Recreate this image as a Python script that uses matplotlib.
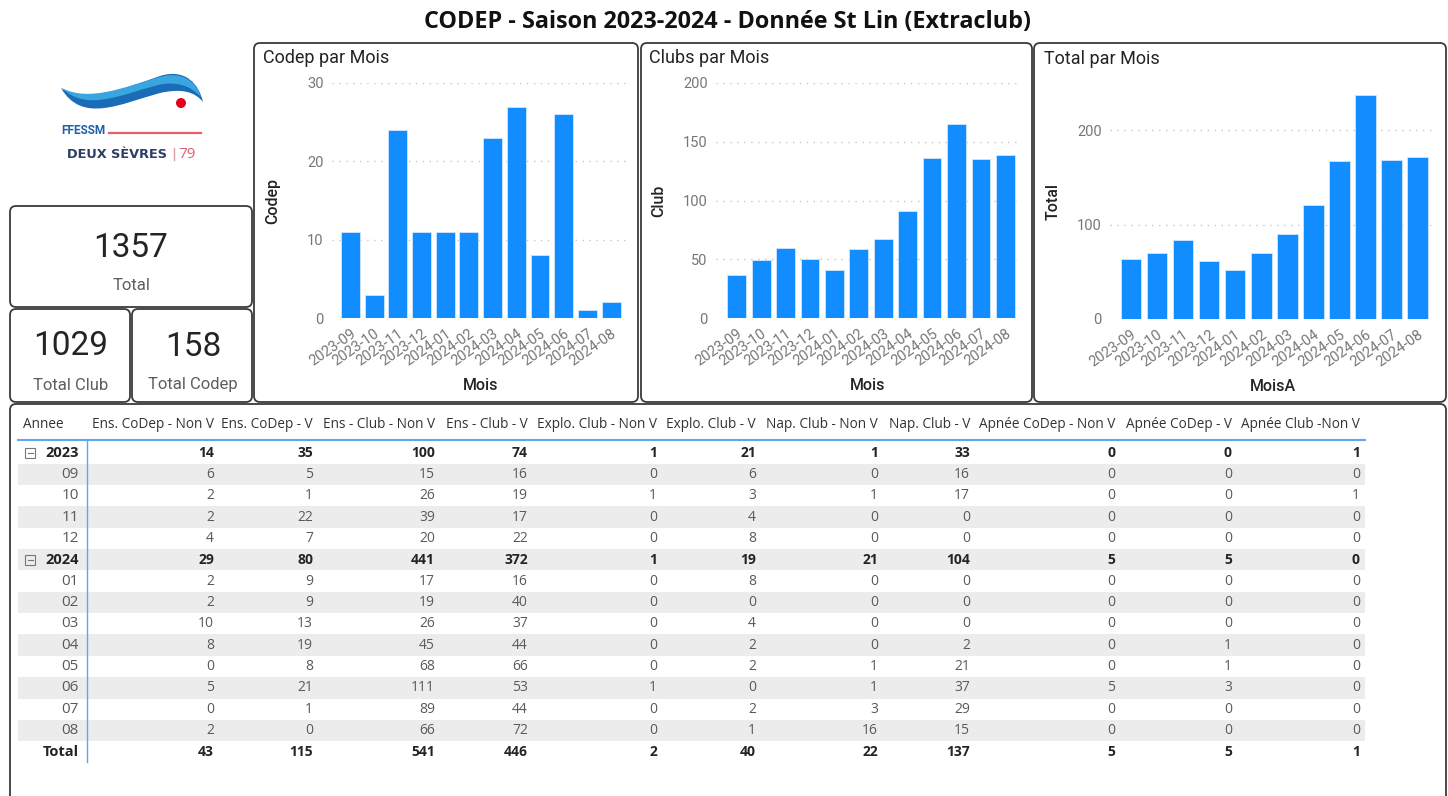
import matplotlib.pyplot as plt
import numpy as np
from matplotlib.patches import FancyBboxPatch, Circle, Rectangle, PathPatch
from matplotlib.path import Path

mois = ["2023-09", "2023-10", "2023-11", "2023-12", "2024-01", "2024-02",
        "2024-03", "2024-04", "2024-05", "2024-06", "2024-07", "2024-08"]
codep = [11, 3, 24, 11, 11, 11, 23, 27, 8, 26, 1, 2]
club = [37, 49, 60, 50, 41, 59, 67, 91, 136, 165, 135, 139]
total = [64, 70, 84, 61, 52, 70, 90, 121, 167, 237, 168, 172]

kpi_total = 1357
kpi_club = 1029
kpi_codep = 158

colonnes = ["Ens. CoDep - Non V", "Ens. CoDep - V", "Ens - Club - Non V", "Ens - Club - V",
            "Explo. Club - Non V", "Explo. Club - V", "Nap. Club - Non V", "Nap. Club - V",
            "Apnée CoDep - Non V", "Apnée CoDep - V", "Apnée Club -Non V"]
mois_2023 = ["09", "10", "11", "12"]
mois_2024 = ["01", "02", "03", "04", "05", "06", "07", "08"]
ens_codep_nv = [6, 2, 2, 4, 2, 2, 10, 8, 0, 5, 0, 2]
ens_codep_v = [5, 1, 22, 7, 9, 9, 13, 19, 8, 21, 1, 0]
ens_club_nv = [15, 26, 39, 20, 17, 19, 26, 45, 68, 111, 89, 66]
ens_club_v = [16, 19, 17, 22, 16, 40, 37, 44, 66, 53, 44, 72]
explo_nv = [0, 1, 0, 0, 0, 0, 0, 0, 0, 1, 0, 0]
explo_v = [6, 3, 4, 8, 8, 0, 4, 2, 2, 0, 2, 1]
nap_nv = [0, 1, 0, 0, 0, 0, 0, 0, 1, 1, 3, 16]
nap_v = [16, 17, 0, 0, 0, 0, 0, 2, 21, 37, 29, 15]
apnee_codep_nv = [0, 0, 0, 0, 0, 0, 0, 0, 0, 5, 0, 0]
apnee_codep_v = [0, 0, 0, 0, 0, 0, 0, 1, 1, 3, 0, 0]
apnee_club_nv = [0, 1, 0, 0, 0, 0, 0, 0, 0, 0, 0, 0]
series = [ens_codep_nv, ens_codep_v, ens_club_nv, ens_club_v, explo_nv, explo_v,
          nap_nv, nap_v, apnee_codep_nv, apnee_codep_v, apnee_club_nv]

W, H = 1448, 796
BLEU = "#118DFF"
TXT = "#252423"
GRIS = "#605E5C"
POLICE = "Roboto"
POLICE_TAB = "Open Sans"

fig = plt.figure(figsize=(W / 100, H / 100), dpi=100)
fig.patch.set_facecolor("white")

bg = fig.add_axes([0, 0, 1, 1])
bg.set_xlim(0, W)
bg.set_ylim(H, 0)
bg.axis("off")


def boite(x0, y0, x1, y1):
    bg.add_patch(FancyBboxPatch((x0, y0), x1 - x0, y1 - y0,
                                boxstyle="round,pad=0,rounding_size=6",
                                fc="white", ec="#3a3a3a", lw=1.3))


def px(x0, y0, x1, y1):
    return [x0 / W, 1 - y1 / H, (x1 - x0) / W, (y1 - y0) / H]


# titre
bg.text(W / 2 + 4, 22, "CODEP - Saison 2023-2024 - Donnée St Lin (Extraclub)",
        ha="center", va="center", fontsize=16.8, fontweight="bold",
        family=POLICE_TAB, color="#111111")

# logo
codes = [Path.MOVETO] + [Path.CURVE4] * 12
vague = Path([(61, 88), (85, 104), (120, 90), (160, 76), (185, 68), (199, 84), (203, 102),
              (195, 92), (182, 88), (160, 93), (120, 104), (82, 124), (61, 88)], codes)
bg.add_patch(PathPatch(vague, fc="#1b6cb6", ec="none"))
clair = Path([(62, 88), (88, 102), (122, 88), (160, 77), (184, 70), (197, 84), (201, 97),
              (190, 85), (175, 81), (158, 85), (120, 95), (86, 112), (62, 88)], codes)
bg.add_patch(PathPatch(clair, fc="#3aa6e0", ec="none"))
bg.add_patch(Circle((181, 103), 5, fc="#e3001b", ec="none"))
bg.text(61, 131, "FFESSM", ha="left", va="center", fontsize=8.5, fontweight="bold",
        family=POLICE, color="#1b5fae")
bg.plot([109, 201], [133, 133], color="#e8606b", lw=1.6)
bg.text(67, 154, "DEUX SÈVRES", ha="left", va="center", fontsize=9.3, fontweight="bold",
        family="DejaVu Sans", color="#2b3f66")
bg.plot([174, 174], [148, 160], color="#d8a0a8", lw=1)
bg.text(178, 154, "79", ha="left", va="center", fontsize=11, family="Open Sans",
        color="#e06070")

# cartes KPI
boite(10, 206, 252, 307)
boite(10, 309, 130, 402)
boite(132, 309, 252, 402)
bg.text(131, 248, f"{kpi_total}", ha="center", va="center", fontsize=24, family=POLICE, color=TXT)
bg.text(131, 285, "Total", ha="center", va="center", fontsize=12, family=POLICE, color=GRIS)
bg.text(71, 346, f"{kpi_club}", ha="center", va="center", fontsize=24, family=POLICE, color=TXT)
bg.text(71, 385, "Total Club", ha="center", va="center", fontsize=12, family=POLICE, color=GRIS)
bg.text(193, 347, f"{kpi_codep}", ha="center", va="center", fontsize=24, family=POLICE, color=TXT)
bg.text(193, 385, "Total Codep", ha="center", va="center", fontsize=12, family=POLICE, color=GRIS)

# graphiques
boite(254, 43, 638, 402)
boite(641, 43, 1032, 402)
boite(1034, 43, 1446, 402)

graphs = [
    ("Codep par Mois", codep, "Codep", "Mois", (332, 83, 630, 318), 30, [0, 10, 20, 30],
     (-0.78, 11.8), 0.8, (263, 58), -0.172),
    ("Clubs par Mois", club, "Club", "Mois", (716, 83, 1020, 318), 200, [0, 50, 100, 150, 200],
     (-0.85, 11.6), 0.77, (649, 58), -0.164),
    ("Total par Mois", total, "Total", "MoisA", (1110, 83, 1436, 319), 250, [0, 100, 200],
     (-0.8, 11.7), 0.79, (1044, 59), -0.15),
]

for titre, vals, ylab, xlab, pos, ymax, yt, xl, bw, tpos, ylx in graphs:
    ax = fig.add_axes(px(*pos))
    ax.set_facecolor("none")
    x = np.arange(len(mois))
    ax.bar(x, vals, width=bw, color=BLEU, edgecolor="#cfe6ff", linewidth=0.6, zorder=3)
    ax.set_ylim(0, ymax)
    ax.set_xlim(*xl)
    ax.set_yticks(yt)
    ax.set_xticks(x)
    ax.set_xticklabels(mois, rotation=35, ha="right", rotation_mode="anchor")
    ax.tick_params(length=0, labelsize=10.5, labelcolor="#777777", pad=6)
    for lab in ax.get_xticklabels() + ax.get_yticklabels():
        lab.set_family(POLICE)
    ax.grid(axis="y", linestyle=(0, (1, 4)), color="#c8c6c4", lw=1, zorder=0)
    for s in ax.spines.values():
        s.set_visible(False)
    ax.set_ylabel(ylab, fontsize=11.5, family=POLICE, fontweight="medium", color=TXT)
    ax.set_xlabel(xlab, fontsize=11.5, family=POLICE, fontweight="medium", color=TXT)
    ax.yaxis.set_label_coords(ylx, 0.5)
    ax.xaxis.set_label_coords(0.5, -0.255)
    bg.text(tpos[0], tpos[1], titre, ha="left", va="center", fontsize=13,
            family=POLICE, color=TXT)

# tableau
boite(10, 404, 1446, 820)
droites = [214, 313, 435, 528, 657, 756, 878, 970, 1115, 1232, 1360]
bg.text(23, 424, "Annee", ha="left", va="center", fontsize=9.8, family=POLICE_TAB, color="#333333")
for g, nom in zip(droites, colonnes):
    bg.text(g, 424, nom, ha="right", va="center", fontsize=9.8, family=POLICE_TAB, color="#333333")

lignes = []
lignes.append(("2023", [sum(s[:4]) for s in series], "annee"))
for i, m in enumerate(mois_2023):
    lignes.append((m, [s[i] for s in series], "mois"))
lignes.append(("2024", [sum(s[4:]) for s in series], "annee"))
for i, m in enumerate(mois_2024):
    lignes.append((m, [s[4 + i] for s in series], "mois"))
lignes.append(("Total", [sum(s) for s in series], "total"))

y0, pas = 453, 21.35
for k, (lab, vals, typ) in enumerate(lignes):
    y = y0 + k * pas
    if k % 2 == 1:
        bg.add_patch(Rectangle((18, y - pas / 2), 1347, pas, fc="#ececec", ec="none"))
    gras = typ != "mois"
    coul = TXT if gras else "#5a5a5a"
    fw = "bold" if gras else "normal"
    if typ == "annee":
        bg.add_patch(Rectangle((25, y - 5), 10, 10, fc="none", ec="#777777", lw=0.8))
        bg.plot([27.5, 32.5], [y, y], color="#777777", lw=0.8)
        bg.text(45, y, lab, ha="left", va="center", fontsize=10.5, family=POLICE_TAB,
                fontweight="bold", color=TXT)
    else:
        bg.text(79, y, lab, ha="right", va="center", fontsize=10.5 if gras else 11,
                family=POLICE_TAB, fontweight=fw, color=coul)
    for g, v in zip(droites, vals):
        bg.text(g, y, f"{v}", ha="right", va="center", fontsize=10, family=POLICE_TAB,
                fontweight=fw, color=coul)

bg.plot([18, 1365], [440, 440], color="#5aa8f0", lw=1.5)
bg.plot([87, 87], [440, 762], color="#5aa8f0", lw=1)

fig.savefig("out.png", dpi=100)
